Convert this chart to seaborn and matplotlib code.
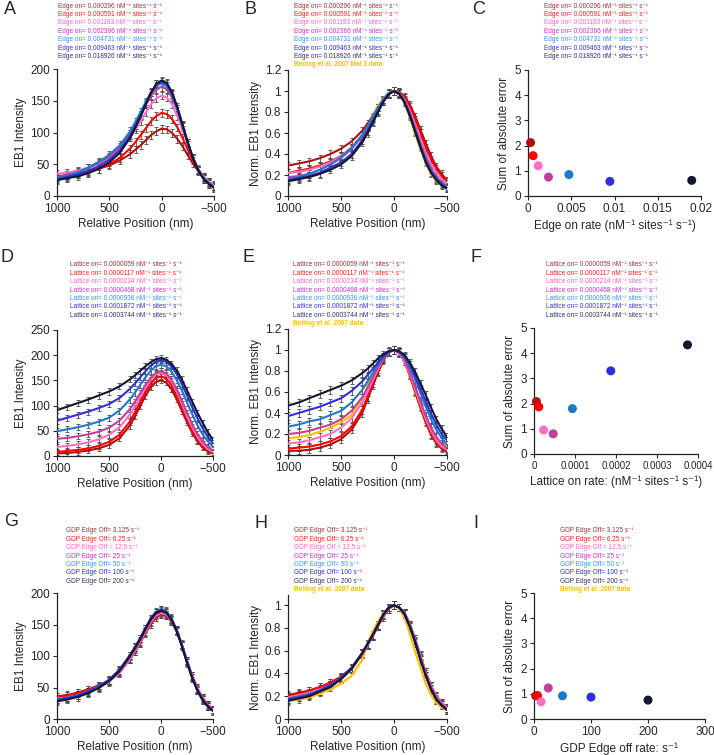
import numpy as np
import pandas as pd
import matplotlib
matplotlib.use('Agg')
import matplotlib.pyplot as plt
import seaborn as sns

# style first, fonts after (set_style resets font.family)
sns.set_style('ticks')
plt.rcParams['font.family'] = ['Liberation Sans', 'DejaVu Sans']

W, H = 714, 755

# ---------------- data ----------------
pos_nm = [1000, 900, 800, 700, 600, 500, 400, 300, 250, 200, 150, 100, 50, 0,
          -50, -100, -150, -200, -250, -300, -350, -400, -450, -500]

# A: edge on rate, absolute intensity
edge_abs = [
    [31, 33, 36, 39, 43, 48, 56, 66, 73, 80, 88, 96, 102, 106, 105, 99, 90, 78, 64, 51, 39, 29, 22, 16],
    [29, 31, 34, 38, 43, 50, 60, 75, 85, 96, 107, 118, 126, 131, 129, 121, 108, 91, 73, 56, 41, 30, 22, 16],
    [35, 37, 40, 45, 51, 60, 73, 92, 105, 118, 132, 145, 154, 158, 155, 144, 126, 104, 81, 60, 43, 31, 23, 17],
    [30, 33, 38, 44, 52, 62, 77, 98, 112, 128, 144, 158, 168, 172, 168, 155, 134, 109, 83, 60, 42, 29, 21, 15],
    [28, 32, 37, 45, 54, 65, 80, 102, 117, 133, 149, 164, 174, 177, 173, 159, 137, 110, 83, 60, 41, 28, 20, 14],
    [27, 30, 34, 40, 47, 57, 72, 95, 111, 128, 146, 163, 176, 180, 176, 161, 138, 111, 83, 59, 40, 27, 19, 13],
    [25, 28, 31, 36, 43, 53, 68, 92, 108, 126, 145, 163, 177, 182, 178, 163, 140, 112, 84, 59, 40, 27, 19, 13],
]
# B: edge on rate, normalised
edge_norm = [
    [0.29, 0.31, 0.33, 0.36, 0.40, 0.45, 0.52, 0.62, 0.69, 0.76, 0.84, 0.91, 0.97, 1.00, 0.99, 0.95, 0.87, 0.76, 0.63, 0.50, 0.38, 0.28, 0.21, 0.15],
    [0.22, 0.24, 0.26, 0.29, 0.33, 0.38, 0.46, 0.57, 0.65, 0.73, 0.82, 0.90, 0.97, 1.00, 0.99, 0.94, 0.85, 0.73, 0.60, 0.46, 0.35, 0.26, 0.19, 0.14],
    [0.22, 0.23, 0.25, 0.28, 0.32, 0.38, 0.46, 0.58, 0.66, 0.75, 0.84, 0.92, 0.98, 1.00, 0.98, 0.92, 0.81, 0.68, 0.54, 0.41, 0.30, 0.22, 0.16, 0.12],
    [0.18, 0.19, 0.21, 0.25, 0.30, 0.36, 0.45, 0.57, 0.65, 0.74, 0.84, 0.92, 0.98, 1.00, 0.98, 0.91, 0.79, 0.65, 0.50, 0.37, 0.26, 0.18, 0.13, 0.09],
    [0.16, 0.18, 0.21, 0.25, 0.30, 0.37, 0.46, 0.58, 0.66, 0.75, 0.84, 0.92, 0.98, 1.00, 0.98, 0.90, 0.78, 0.63, 0.48, 0.35, 0.24, 0.17, 0.12, 0.08],
    [0.15, 0.17, 0.19, 0.22, 0.27, 0.32, 0.40, 0.53, 0.62, 0.71, 0.81, 0.90, 0.97, 1.00, 0.97, 0.89, 0.77, 0.62, 0.47, 0.33, 0.23, 0.16, 0.11, 0.07],
    [0.14, 0.16, 0.18, 0.21, 0.25, 0.30, 0.38, 0.51, 0.60, 0.70, 0.80, 0.90, 0.97, 1.00, 0.97, 0.89, 0.76, 0.61, 0.46, 0.32, 0.22, 0.15, 0.10, 0.07],
]
# D: lattice on rate, absolute
lattice_abs = [
    [5, 6, 8, 11, 15, 22, 35, 60, 79, 99, 119, 136, 147, 150, 146, 133, 113, 90, 67, 46, 29, 17, 9, 5],
    [8, 10, 12, 15, 20, 28, 42, 68, 87, 107, 127, 144, 155, 158, 154, 141, 120, 96, 72, 50, 32, 19, 11, 6],
    [18, 20, 23, 27, 33, 42, 57, 82, 99, 117, 135, 151, 162, 165, 161, 148, 128, 104, 79, 57, 38, 24, 14, 8],
    [34, 36, 39, 43, 48, 56, 70, 93, 108, 124, 141, 155, 165, 168, 164, 152, 133, 110, 86, 63, 44, 29, 18, 11],
    [49, 53, 57, 62, 68, 76, 90, 112, 126, 141, 156, 169, 178, 181, 178, 168, 151, 130, 106, 83, 61, 43, 29, 19],
    [70, 76, 82, 88, 95, 103, 115, 133, 144, 156, 168, 179, 187, 190, 187, 178, 163, 143, 120, 97, 75, 55, 38, 25],
    [91, 98, 105, 112, 120, 128, 138, 152, 160, 169, 178, 186, 192, 194, 191, 183, 170, 152, 130, 108, 86, 66, 47, 32],
]
# E: lattice on rate, normalised
lattice_norm = [
    [0.04, 0.04, 0.05, 0.07, 0.10, 0.15, 0.24, 0.40, 0.53, 0.66, 0.79, 0.90, 0.98, 1.00, 0.97, 0.89, 0.76, 0.60, 0.45, 0.31, 0.19, 0.11, 0.06, 0.03],
    [0.06, 0.07, 0.08, 0.10, 0.13, 0.18, 0.27, 0.43, 0.55, 0.68, 0.80, 0.91, 0.98, 1.00, 0.97, 0.89, 0.76, 0.61, 0.46, 0.32, 0.20, 0.12, 0.07, 0.04],
    [0.11, 0.12, 0.14, 0.17, 0.20, 0.26, 0.35, 0.50, 0.60, 0.71, 0.82, 0.92, 0.98, 1.00, 0.97, 0.89, 0.77, 0.62, 0.48, 0.34, 0.23, 0.14, 0.08, 0.05],
    [0.20, 0.21, 0.23, 0.26, 0.29, 0.34, 0.42, 0.55, 0.64, 0.74, 0.84, 0.92, 0.98, 1.00, 0.98, 0.91, 0.79, 0.65, 0.51, 0.37, 0.26, 0.17, 0.11, 0.06],
    [0.27, 0.29, 0.32, 0.34, 0.38, 0.42, 0.50, 0.62, 0.70, 0.78, 0.86, 0.93, 0.98, 1.00, 0.98, 0.93, 0.83, 0.72, 0.59, 0.46, 0.34, 0.24, 0.16, 0.10],
    [0.37, 0.40, 0.43, 0.46, 0.50, 0.54, 0.61, 0.70, 0.76, 0.82, 0.88, 0.94, 0.98, 1.00, 0.98, 0.94, 0.86, 0.75, 0.63, 0.51, 0.39, 0.29, 0.20, 0.14],
    [0.47, 0.50, 0.54, 0.58, 0.62, 0.66, 0.71, 0.78, 0.82, 0.87, 0.92, 0.96, 0.99, 1.00, 0.99, 0.95, 0.88, 0.79, 0.68, 0.57, 0.45, 0.34, 0.25, 0.17],
]
# G: GDP edge off rate, absolute
gdp_abs = [
    [36, 38, 42, 47, 53, 61, 74, 95, 107, 121, 136, 150, 161, 166, 164, 155, 139, 117, 92, 68, 48, 33, 22, 15],
    [35, 37, 41, 46, 53, 61, 74, 95, 107, 121, 137, 151, 162, 167, 165, 156, 140, 118, 93, 69, 49, 34, 23, 15],
    [32, 34, 38, 43, 50, 59, 73, 95, 108, 122, 138, 153, 164, 168, 166, 157, 141, 119, 93, 69, 49, 33, 22, 15],
    [31, 33, 37, 43, 50, 60, 75, 97, 110, 124, 140, 155, 166, 170, 168, 158, 141, 118, 92, 68, 47, 32, 21, 14],
    [31, 34, 38, 44, 52, 62, 78, 101, 114, 128, 144, 159, 170, 174, 171, 160, 142, 118, 91, 66, 46, 31, 20, 13],
    [30, 33, 37, 43, 51, 62, 78, 101, 114, 128, 144, 159, 169, 173, 170, 159, 141, 117, 90, 66, 45, 30, 20, 13],
    [28, 31, 35, 41, 49, 60, 76, 100, 113, 127, 143, 158, 168, 172, 169, 158, 140, 116, 89, 65, 45, 30, 20, 13],
]
# H: GDP edge off rate, normalised
gdp_norm = [
    [0.21, 0.23, 0.25, 0.28, 0.32, 0.37, 0.45, 0.57, 0.65, 0.73, 0.82, 0.90, 0.97, 1.00, 0.98, 0.93, 0.83, 0.70, 0.55, 0.41, 0.29, 0.20, 0.14, 0.10],
    [0.20, 0.22, 0.25, 0.28, 0.32, 0.37, 0.45, 0.57, 0.65, 0.73, 0.82, 0.90, 0.97, 1.00, 0.98, 0.93, 0.83, 0.70, 0.55, 0.41, 0.29, 0.20, 0.14, 0.10],
    [0.19, 0.21, 0.23, 0.26, 0.30, 0.36, 0.44, 0.57, 0.65, 0.73, 0.82, 0.91, 0.97, 1.00, 0.98, 0.93, 0.83, 0.70, 0.56, 0.41, 0.29, 0.20, 0.14, 0.10],
    [0.18, 0.20, 0.22, 0.25, 0.30, 0.35, 0.44, 0.57, 0.65, 0.73, 0.82, 0.91, 0.97, 1.00, 0.98, 0.93, 0.83, 0.69, 0.54, 0.40, 0.28, 0.19, 0.13, 0.09],
    [0.18, 0.19, 0.22, 0.25, 0.30, 0.36, 0.45, 0.58, 0.66, 0.74, 0.83, 0.91, 0.98, 1.00, 0.98, 0.92, 0.82, 0.68, 0.53, 0.38, 0.26, 0.18, 0.12, 0.08],
    [0.17, 0.19, 0.21, 0.25, 0.30, 0.36, 0.45, 0.58, 0.66, 0.74, 0.83, 0.92, 0.98, 1.00, 0.98, 0.92, 0.81, 0.68, 0.52, 0.38, 0.26, 0.17, 0.12, 0.08],
    [0.16, 0.18, 0.20, 0.24, 0.28, 0.35, 0.44, 0.58, 0.66, 0.74, 0.83, 0.92, 0.98, 1.00, 0.98, 0.92, 0.81, 0.67, 0.52, 0.38, 0.26, 0.17, 0.12, 0.08],
]
# Bieling et al. 2007 experimental profile (normalised)
bieling = [0.16, 0.17, 0.19, 0.22, 0.26, 0.31, 0.38, 0.52, 0.66, 0.77, 0.86, 0.93, 0.98, 1.00,
           0.97, 0.89, 0.75, 0.59, 0.45, 0.31, 0.21, 0.14, 0.10, 0.08]

err_abs = 6
err_norm = 0.035

# C, F, I: sum of absolute error vs rate
edge_rates = [0.000296, 0.000591, 0.001183, 0.002366, 0.004731, 0.009463, 0.018926]
edge_sae = [2.12, 1.60, 1.20, 0.75, 0.85, 0.58, 0.62]
lattice_rates = [0.0000059, 0.0000117, 0.0000234, 0.0000468, 0.0000936, 0.0001872, 0.0003744]
lattice_sae = [2.08, 1.87, 0.95, 0.80, 1.80, 3.30, 4.33]
gdp_rates = [3.125, 6.25, 12.5, 25, 50, 100, 200]
gdp_sae = [0.92, 0.93, 0.68, 1.23, 0.92, 0.87, 0.75]

units = ' nM\u207b\u00b9 sites\u207b\u00b9 s\u207b\u00b9'
edge_labels = ['Edge on= ' + v + units for v in
               ['0.000296', '0.000591', '0.001183', '0.002366', '0.004731', '0.009463', '0.018926']]
lattice_labels = ['Lattice on= ' + v + units for v in
                  ['0.0000059', '0.0000117', '0.0000234', '0.0000468', '0.0000936', '0.0001872', '0.0003744']]
gdp_labels = ['GDP Edge Off= 3.125 s\u207b\u00b9', 'GDP Edge Off= 6.25 s\u207b\u00b9', 'GDP Edge Off = 12.5 s\u207b\u00b9',
              'GDP Edge Off= 25 s\u207b\u00b9', 'GDP Edge Off= 50 s\u207b\u00b9', 'GDP Edge Off= 100 s\u207b\u00b9',
              'GDP Edge Off= 200 s\u207b\u00b9']

line_colors = ['#B01010', '#FF0000', '#FF6FC8', '#C0409A', '#1A7CC8', '#2E2EDB', '#101830']
text_colors = ['#A0323C', '#FF2020', '#FF66CC', '#CC33CC', '#3399FF', '#3333CC', '#333366']
yellow = '#FFC000'
bar_color = '#4A4A4A'

fig = plt.figure(figsize=(W / 100, H / 100), dpi=100)


def add_box(l, r, t, b):
    return fig.add_axes([l / W, 1 - b / H, (r - l) / W, (b - t) / H])


def tidy(ax, xsize=8.5):
    sns.despine(ax=ax)
    ax.tick_params(labelsize=8.5, length=3, width=0.8, pad=2)
    ax.tick_params(axis='x', labelsize=xsize)
    for s in ['left', 'bottom']:
        ax.spines[s].set_linewidth(0.9)
        ax.spines[s].set_color('#222222')


def profile(box, curves, err, ylim, yticks, yticklabels, ylabel, with_bieling):
    ax = add_box(*box)
    for vals in curves:
        ax.errorbar(pos_nm, vals, yerr=err, fmt='none', ecolor=bar_color,
                    elinewidth=0.6, capsize=1.6, capthick=0.6, zorder=1)
    if with_bieling:
        sns.lineplot(x=pos_nm, y=bieling, color=yellow, lw=1.6, ax=ax, legend=False, zorder=2)
    for vals, col in zip(curves, line_colors):
        sns.lineplot(x=pos_nm, y=vals, color=col, lw=1.5, ax=ax, legend=False, zorder=3)
    ax.set_xlim(1000, -500)
    ax.set_xticks([1000, 500, 0, -500])
    ax.set_ylim(*ylim)
    ax.set_yticks(yticks)
    ax.set_yticklabels(yticklabels)
    ax.set_xlabel('Relative Position (nm)', fontsize=8.5, labelpad=2)
    ax.set_ylabel(ylabel, fontsize=8.5, labelpad=2)
    tidy(ax)
    return ax


def sae(box, rates, values, xlim, xticks, xticklabels, xlabel, xsize=8.5):
    ax = add_box(*box)
    df = pd.DataFrame({'rate': rates, 'sae': values, 'k': list(range(len(rates)))})
    sns.scatterplot(data=df, x='rate', y='sae', hue='k', palette=line_colors,
                    s=42, edgecolor='none', legend=False, ax=ax, clip_on=False, zorder=3)
    ax.set_xlim(*xlim)
    ax.set_xticks(xticks)
    ax.set_xticklabels(xticklabels)
    ax.set_ylim(0, 5)
    ax.set_yticks([0, 1, 2, 3, 4, 5])
    ax.set_xlabel(xlabel, fontsize=8.5, labelpad=3)
    ax.set_ylabel('Sum of absolute error', fontsize=8.5, labelpad=3)
    tidy(ax, xsize)
    return ax


def key(x, y0, labels, extra=None):
    for i, (lab, col) in enumerate(zip(labels, text_colors)):
        fig.text(x / W, 1 - (y0 + i * 8.4) / H, lab, color=col, fontsize=4.7, ha='left', va='center')
    if extra:
        fig.text(x / W, 1 - (y0 + len(labels) * 8.4) / H, extra, color=yellow, fontsize=4.7,
                 fontweight='bold', ha='left', va='center')


norm_ticks = [0, 0.2, 0.4, 0.6, 0.8, 1, 1.2]
norm_ticklabels = ['0', '0.2', '0.4', '0.6', '0.8', '1', '1.2']

# row 1
profile((57, 214, 69, 196), edge_abs, err_abs, (0, 200), [0, 50, 100, 150, 200],
        ['0', '50', '100', '150', '200'], 'EB1 Intensity', False)
profile((288, 447, 70, 196), edge_norm, err_norm, (0, 1.2), norm_ticks, norm_ticklabels,
        'Norm. EB1 Intensity', True)
sae((528, 701, 70, 196), edge_rates, edge_sae, (0, 0.02), [0, 0.005, 0.01, 0.015, 0.02],
    ['0', '0.005', '0.01', '0.015', '0.02'], 'Edge on rate (nM\u207b\u00b9 sites\u207b\u00b9 s\u207b\u00b9)')

# row 2
profile((57, 213, 330, 456), lattice_abs, err_abs, (0, 250), [0, 50, 100, 150, 200, 250],
        ['0', '50', '100', '150', '200', '250'], 'EB1 Intensity', False)
profile((288, 447, 329, 455), lattice_norm, err_norm, (0, 1.2), norm_ticks, norm_ticklabels,
        'Norm. EB1 Intensity', True)
sae((534, 698, 328, 454), lattice_rates, lattice_sae, (0, 0.0004), [0, 0.0001, 0.0002, 0.0003, 0.0004],
    ['0', '0.0001', '0.0002', '0.0003', '0.0004'], 'Lattice on rate: (nM\u207b\u00b9 sites\u207b\u00b9 s\u207b\u00b9)',
    xsize=7)

# row 3
profile((57, 213, 593, 719), gdp_abs, err_abs, (0, 200), [0, 50, 100, 150, 200],
        ['0', '50', '100', '150', '200'], 'EB1 Intensity', False)
profile((288, 447, 595, 719), gdp_norm, err_norm, (0, 1.09), [0, 0.2, 0.4, 0.6, 0.8, 1],
        ['0', '0.2', '0.4', '0.6', '0.8', '1'], 'Norm. EB1 Intensity', True)
sae((534, 705, 593, 719), gdp_rates, gdp_sae, (0, 300), [0, 100, 200, 300],
    ['0', '100', '200', '300'], 'GDP Edge off rate: s\u207b\u00b9')

# colour keys above each panel
key(58, 6, edge_labels)
key(294, 6, edge_labels, 'Beiling et al. 2007 Mal 3 data')
key(544, 6, edge_labels)
key(70, 265, lattice_labels)
key(293, 265, lattice_labels, 'Beiling et al. 2007 data')
key(546, 265, lattice_labels)
key(66, 531, gdp_labels)
key(294, 531, gdp_labels, 'Beiling et al. 2007 data')
key(560, 531, gdp_labels, 'Beiling et al. 2007 data')

# panel letters
for letter, x, y in [('A', 4, 1), ('B', 244, 1), ('C', 472, 1),
                     ('D', 1, 249), ('E', 243, 249), ('F', 471, 249),
                     ('G', 4, 513), ('H', 254, 515), ('I', 473, 515)]:
    fig.text(x / W, 1 - y / H, letter, fontsize=13, ha='left', va='top')

fig.savefig('out.png', dpi=100)
